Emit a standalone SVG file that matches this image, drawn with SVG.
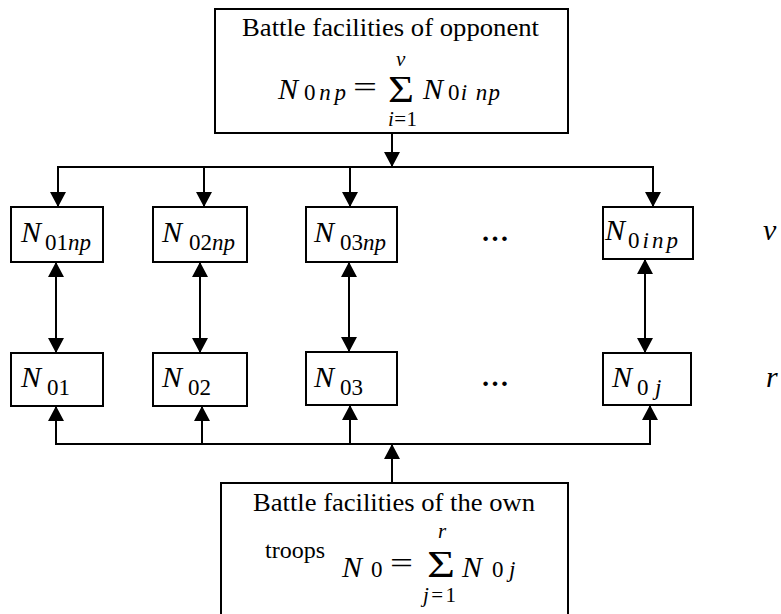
<svg xmlns="http://www.w3.org/2000/svg" width="781" height="614" viewBox="0 0 781 614">
  <style>
    text { font-family: "Liberation Serif", "Times New Roman", serif; fill: #000; }
    .lbl { font-size: 26px; }
    .it { font-style: italic; }
    .big { font-size: 30px; font-style: italic; }
    .sub { font-size: 23px; }
    .fm { font-size: 30px; font-style: italic; }
    .fs { font-size: 23px; }
    .lim { font-size: 21px; }
    .box { fill: #fff; stroke: #000; stroke-width: 2; }
    .wire { fill: none; stroke: #000; stroke-width: 2; }
  </style>
  <defs>
    <marker id="arrow" viewBox="0 0 15 16" refX="15" refY="8" markerWidth="15" markerHeight="16" markerUnits="userSpaceOnUse" orient="auto-start-reverse">
      <path d="M0,0 L15,8 L0,16 Z" fill="#000"/>
    </marker>
  </defs>

  <!-- connectors -->
  <g id="connectors">
    <!-- opponent total feeding the opponent row -->
    <line class="wire" x1="392" y1="133" x2="392" y2="167" marker-end="url(#arrow)"/>
    <line class="wire" x1="57" y1="167" x2="654" y2="167"/>
    <line class="wire" x1="58" y1="167" x2="58" y2="207" marker-end="url(#arrow)"/>
    <line class="wire" x1="204" y1="167" x2="204" y2="207" marker-end="url(#arrow)"/>
    <line class="wire" x1="350" y1="167" x2="350" y2="207" marker-end="url(#arrow)"/>
    <line class="wire" x1="653" y1="167" x2="653" y2="207" marker-end="url(#arrow)"/>
    <!-- two-way links between rows -->
    <line class="wire" x1="56" y1="262" x2="56" y2="353" marker-start="url(#arrow)" marker-end="url(#arrow)"/>
    <line class="wire" x1="200" y1="262" x2="200" y2="353" marker-start="url(#arrow)" marker-end="url(#arrow)"/>
    <line class="wire" x1="349" y1="262" x2="349" y2="352" marker-start="url(#arrow)" marker-end="url(#arrow)"/>
    <line class="wire" x1="645" y1="259" x2="645" y2="353" marker-start="url(#arrow)" marker-end="url(#arrow)"/>
    <!-- own total feeding the own row -->
    <line class="wire" x1="392" y1="483" x2="392" y2="444" marker-end="url(#arrow)"/>
    <line class="wire" x1="55" y1="444" x2="651" y2="444"/>
    <line class="wire" x1="56" y1="444" x2="56" y2="406" marker-end="url(#arrow)"/>
    <line class="wire" x1="202" y1="444" x2="202" y2="406" marker-end="url(#arrow)"/>
    <line class="wire" x1="350" y1="444" x2="350" y2="405" marker-end="url(#arrow)"/>
    <line class="wire" x1="650" y1="444" x2="650" y2="405" marker-end="url(#arrow)"/>
  </g>

  <!-- opponent total -->
  <g id="opponent-total">
    <rect class="box" x="215" y="9" width="353" height="124"/>
    <text class="lbl" x="242" y="36" textLength="297" lengthAdjust="spacingAndGlyphs">Battle facilities of opponent</text>
    <text class="fm" x="278" y="99">N</text>
    <text class="fs" x="304" y="100" textLength="42">0<tspan class="it">np</tspan></text>
    <text style="font-size:30px" x="353" y="97" textLength="24" lengthAdjust="spacingAndGlyphs">=</text>
    <text style="font-size:38px" x="388" y="102" textLength="26" lengthAdjust="spacingAndGlyphs">Σ</text>
    <text class="lim it" x="396" y="66">ν</text>
    <text class="lim" x="388" y="126" textLength="29"><tspan class="it">i</tspan>=1</text>
    <text class="fm" x="423" y="99">N</text>
    <text class="fs" x="448" y="100" textLength="52">0<tspan class="it">i np</tspan></text>
  </g>

  <!-- opponent row -->
  <g id="n01np">
    <rect class="box" x="11" y="207" width="92" height="55"/>
    <text class="big" x="21" y="242">N</text>
    <text class="sub" x="45" y="250">01<tspan class="it">np</tspan></text>
  </g>
  <g id="n02np">
    <rect class="box" x="153" y="207" width="94" height="55"/>
    <text class="big" x="162" y="242">N</text>
    <text class="sub" x="189" y="250">02<tspan class="it">np</tspan></text>
  </g>
  <g id="n03np">
    <rect class="box" x="306" y="207" width="91" height="55"/>
    <text class="big" x="314" y="242">N</text>
    <text class="sub" x="340" y="250">03<tspan class="it">np</tspan></text>
  </g>
  <g id="dots-top">
    <text style="font-size:28px;font-weight:bold" x="481" y="241">…</text>
  </g>
  <g id="n0inp">
    <rect class="box" x="603" y="207" width="90" height="52"/>
    <text class="big" x="605" y="240">N</text>
    <text class="sub" x="628" y="248" textLength="50">0<tspan class="it">inp</tspan></text>
  </g>
  <g id="nu-label">
    <text class="big" x="763" y="240">ν</text>
  </g>

  <!-- own row -->
  <g id="n01">
    <rect class="box" x="11" y="353" width="92" height="53"/>
    <text class="big" x="21" y="387">N</text>
    <text class="sub" x="47" y="395">01</text>
  </g>
  <g id="n02">
    <rect class="box" x="153" y="353" width="94" height="53"/>
    <text class="big" x="162" y="387">N</text>
    <text class="sub" x="188" y="395">02</text>
  </g>
  <g id="n03">
    <rect class="box" x="306" y="352" width="91" height="53"/>
    <text class="big" x="314" y="387">N</text>
    <text class="sub" x="340" y="395">03</text>
  </g>
  <g id="dots-bottom">
    <text style="font-size:28px;font-weight:bold" x="481" y="386">…</text>
  </g>
  <g id="n0j">
    <rect class="box" x="603" y="353" width="88" height="52"/>
    <text class="big" x="612" y="387">N</text>
    <text class="sub" x="637" y="395">0</text>
    <text class="sub it" x="655" y="395">j</text>
  </g>
  <g id="r-label">
    <text class="big" x="766" y="387">r</text>
  </g>

  <!-- own total -->
  <g id="own-total">
    <rect class="box" x="221" y="483" width="347" height="140"/>
    <text class="lbl" x="253" y="511" textLength="282" lengthAdjust="spacingAndGlyphs">Battle facilities of the own</text>
    <text style="font-size:24px" x="265" y="558" textLength="60">troops</text>
    <text class="fm" x="342" y="577">N</text>
    <text class="fs" x="371" y="577">0</text>
    <text style="font-size:30px" x="390" y="573" textLength="23" lengthAdjust="spacingAndGlyphs">=</text>
    <text style="font-size:38px" x="427" y="577" textLength="28" lengthAdjust="spacingAndGlyphs">Σ</text>
    <text class="lim it" x="438" y="538">r</text>
    <text class="lim" x="423" y="602" textLength="33"><tspan class="it">j</tspan>=1</text>
    <text class="fm" x="462" y="577">N</text>
    <text class="fs" x="492" y="577">0</text>
    <text class="fs it" x="509" y="577">j</text>
  </g>
</svg>
